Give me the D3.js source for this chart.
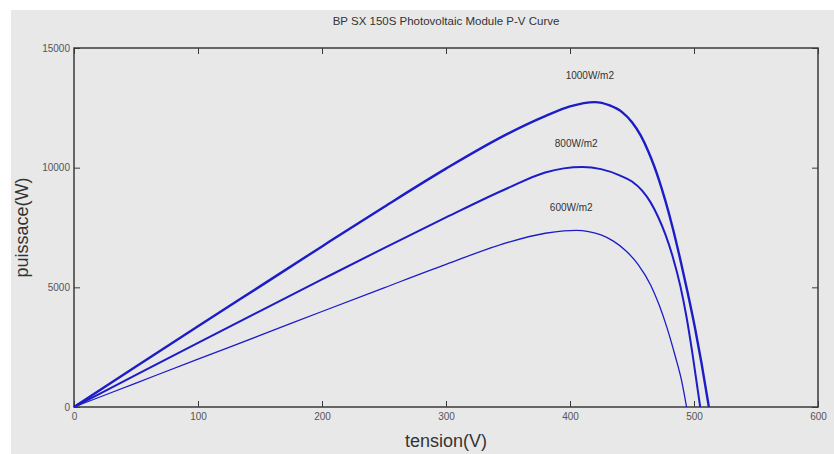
<!DOCTYPE html>
<html>
<head>
<meta charset="utf-8">
<script src="https://cdn.jsdelivr.net/npm/d3@7"></script>
<style>
  body { margin: 0; background: #fff; }
  svg { display: block; font-family: "Liberation Sans", Arial, sans-serif; }
</style>
</head>
<body>
<div class="graphic"></div>
<script>
// values (tension in V, puissance in W)
const volts1000 = [0, 50, 100, 150, 200, 250, 300, 350, 380, 400, 420, 432, 442, 450, 457, 463, 468, 472, 477, 483, 489, 495, 501, 506, 512]
const power1000 = [0, 1690, 3370, 5040, 6710, 8360, 9960, 11420, 12150, 12560, 12740, 12600, 12320, 11900, 11350, 10700, 10050, 9450, 8600, 7450, 6150, 4750, 3250, 1850, 0]

const volts800 = [0, 50, 100, 150, 200, 250, 300, 350, 380, 395, 410, 425, 440, 450, 458, 465, 471, 477, 483, 489, 494, 499, 505]
const power800 = [0, 1340, 2680, 4010, 5330, 6640, 7920, 9150, 9800, 9970, 10030, 9940, 9680, 9420, 9050, 8550, 7950, 7200, 6250, 5050, 3750, 2150, 0]

const volts600 = [0, 50, 100, 150, 200, 250, 300, 350, 380, 395, 405, 415, 425, 435, 445, 455, 465, 472, 478, 485, 490, 494]
const power600 = [0, 1000, 2000, 2990, 3990, 4980, 5960, 6880, 7260, 7360, 7380, 7330, 7190, 6930, 6530, 5950, 5100, 4250, 3350, 2100, 1100, 0]

const seriesNames = ["1000W/m2", "800W/m2", "600W/m2"]
const xTicks = [0, 100, 200, 300, 400, 500, 600]
const yTicks = [0, 5000, 10000, 15000]

const W = 834, H = 454
const plotL = 74, plotR = 818, plotT = 48, plotB = 407

const svg = d3.select(".graphic")
  .append("svg")
  .attr("width", W)
  .attr("height", H)

// grey figure background with a thin white margin top/left
svg.append("rect")
  .attr("x", 11).attr("y", 10)
  .attr("width", W - 11).attr("height", H - 10)
  .attr("fill", "#e8e8e8")

const x = d3.scaleLinear().domain([0, 600]).range([plotL, plotR])
const y = d3.scaleLinear().domain([0, 15000]).range([plotB, plotT])

// box
svg.append("rect")
  .attr("x", plotL).attr("y", plotT)
  .attr("width", plotR - plotL).attr("height", plotB - plotT)
  .attr("fill", "none")
  .attr("stroke", "#3a3a3a")
  .attr("stroke-width", 1.5)

// ticks pointing inward, matlab style
const styleAxis = g => {
  g.select(".domain").remove()
  g.selectAll("line").attr("stroke", "#3a3a3a")
  g.selectAll("text").attr("fill", "#555").attr("font-size", 10)
}

svg.append("g")
  .attr("transform", `translate(0,${plotB})`)
  .call(d3.axisBottom(x).tickValues(xTicks).tickFormat(d3.format("d")).tickSizeInner(-6).tickSizeOuter(0).tickPadding(6))
  .call(styleAxis)

svg.append("g")
  .attr("transform", `translate(0,${plotT})`)
  .call(d3.axisTop(x).tickValues(xTicks).tickSizeInner(-6).tickSizeOuter(0).tickFormat(""))
  .call(styleAxis)

svg.append("g")
  .attr("transform", `translate(${plotL},0)`)
  .call(d3.axisLeft(y).tickValues(yTicks).tickFormat(d3.format("d")).tickSizeInner(-6).tickSizeOuter(0).tickPadding(4))
  .call(styleAxis)

svg.append("g")
  .attr("transform", `translate(${plotR},0)`)
  .call(d3.axisRight(y).tickValues(yTicks).tickSizeInner(-6).tickSizeOuter(0).tickFormat(""))
  .call(styleAxis)

// curves
const curves = [
  { name: seriesNames[0], v: volts1000, p: power1000, w: 2.4 },
  { name: seriesNames[1], v: volts800, p: power800, w: 2.0 },
  { name: seriesNames[2], v: volts600, p: power600, w: 1.3 }
]

const line = d3.line()
  .x(d => x(d[0]))
  .y(d => y(d[1]))
  .curve(d3.curveMonotoneX)

svg.selectAll("path.pv")
  .data(curves)
  .join("path")
    .attr("class", "pv")
    .attr("d", d => line(d.v.map((v, i) => [v, d.p[i]])))
    .attr("fill", "none")
    .attr("stroke", "#1c1cc8")
    .attr("stroke-width", d => d.w)

// curve labels placed above each peak
const labelPos = [[416, 13700], [405, 10860], [401, 8190]]
svg.selectAll("text.lab")
  .data(curves)
  .join("text")
    .attr("class", "lab")
    .attr("x", (d, i) => x(labelPos[i][0]))
    .attr("y", (d, i) => y(labelPos[i][1]))
    .attr("text-anchor", "middle")
    .attr("font-size", 10)
    .attr("fill", "#333")
    .text(d => d.name)

// title and axis labels
svg.append("text")
  .attr("x", (plotL + plotR) / 2)
  .attr("y", 25)
  .attr("text-anchor", "middle")
  .attr("font-size", 11.5)
  .attr("fill", "#333")
  .text("BP SX 150S Photovoltaic Module P-V Curve")

svg.append("text")
  .attr("x", (plotL + plotR) / 2)
  .attr("y", 447)
  .attr("text-anchor", "middle")
  .attr("font-size", 18)
  .attr("fill", "#333")
  .text("tension(V)")

svg.append("text")
  .attr("transform", `translate(28,${(plotT + plotB) / 2}) rotate(-90)`)
  .attr("text-anchor", "middle")
  .attr("font-size", 18)
  .attr("fill", "#333")
  .text("puissace(W)")
</script>
</body>
</html>
